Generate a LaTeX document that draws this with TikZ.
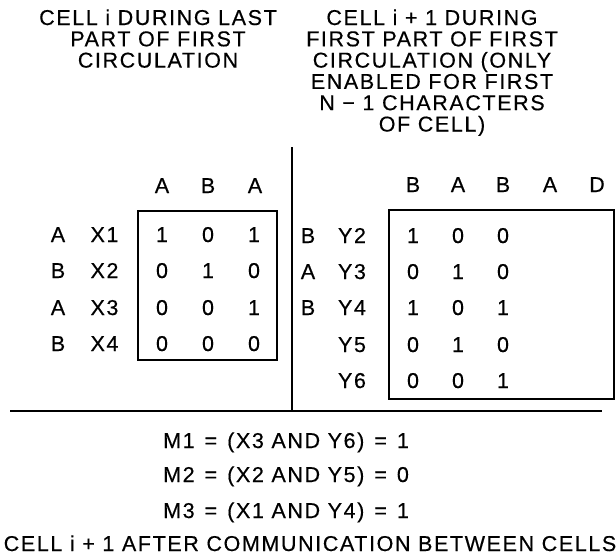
\documentclass[tikz,border=0pt]{standalone}
\usepackage{fontspec}
\setmainfont{Liberation Sans}[LetterSpace=7.5,FakeBold=0.4]
\begin{document}
\begin{tikzpicture}[x=1pt,y=-1pt,
  txt/.style={inner sep=0pt,anchor=base,font=\fontsize{21.5}{21.5}\selectfont},
  rule/.style={line width=2.2pt},
  cellbox/.style={line width=2.4pt}]
\useasboundingbox (0,0) rectangle (616,555);
% titles
\foreach \t [count=\i] in {CELL i DURING LAST,PART OF FIRST,CIRCULATION}
  \node[txt] (lt\i) at (158,{25+21.3*(\i-1)}) {\t};
\foreach \t [count=\i] in {CELL i + 1 DURING,FIRST PART OF FIRST,CIRCULATION (ONLY,ENABLED FOR FIRST,N − 1 CHARACTERS,OF CELL)}
  \node[txt] (rt\i) at (432,{25+21.3*(\i-1)}) {\t};
% separators
\coordinate (vtop) at (292,147);
\coordinate (vbot) at (292,411);
\coordinate (hl) at (10,411);
\coordinate (hr) at (602,411);
\draw[rule] (vtop) -- (vbot);
\draw[rule] (hl) -- (hr);
% left matrix
\foreach \t/\x [count=\i] in {A/162,B/208,A/255}
  \node[txt] (lh\i) at (\x,193) {\t};
\draw[cellbox] (138,211) rectangle (277,360);
\foreach \a/\b/\p/\q/\r/\y [count=\i] in {A/X1/1/0/1/242,B/X2/0/1/0/278,A/X3/0/0/1/315,B/X4/0/0/0/351}{
  \node[txt] (la\i) at (58,\y) {\a};
  \node[txt] (lx\i) at (104.5,\y) {\b};
  \node[txt] (lp\i) at (162,\y) {\p};
  \node[txt] (lq\i) at (208,\y) {\q};
  \node[txt] (lr\i) at (254,\y) {\r};
}
% right matrix
\foreach \t/\x [count=\i] in {B/413,A/458,B/503,A/550,D/597}
  \node[txt] (rh\i) at (\x,192) {\t};
\draw[cellbox] (389,210) rectangle (614,399);
\foreach \a/\b/\p/\q/\r/\y [count=\i] in {B/Y2/1/0/0/243,A/Y3/0/1/0/279,B/Y4/1/0/1/315,{}/Y5/0/1/0/352,{}/Y6/0/0/1/388}{
  \node[txt] (ra\i) at (308,\y) {\a};
  \node[txt] (ry\i) at (352,\y) {\b};
  \node[txt] (rp\i) at (413,\y) {\p};
  \node[txt] (rq\i) at (458,\y) {\q};
  \node[txt] (rr\i) at (503,\y) {\r};
}
% equations
\node[txt,anchor=base west] (m1) at (163,448) {M1\hspace{10pt}=\hspace{10pt}(X3 AND Y6)\hspace{10pt}=\hspace{10pt}1};
\node[txt,anchor=base west] (m2) at (163,482) {M2\hspace{10pt}=\hspace{10pt}(X2 AND Y5)\hspace{10pt}=\hspace{10pt}0};
\node[txt,anchor=base west] (m3) at (163,518) {M3\hspace{10pt}=\hspace{10pt}(X1 AND Y4)\hspace{10pt}=\hspace{10pt}1};
\node[txt] (cap) at (310,551) {CELL i + 1 AFTER COMMUNICATION BETWEEN CELLS};
\end{tikzpicture}
\end{document}
